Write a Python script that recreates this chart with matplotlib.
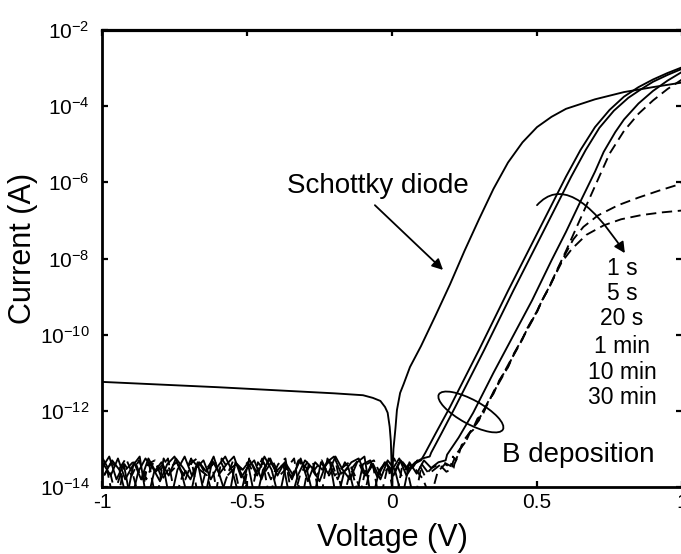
import numpy as np
import matplotlib
matplotlib.use('Agg')
import matplotlib.pyplot as plt
from matplotlib.patches import Ellipse
from matplotlib.transforms import ScaledTranslation
from matplotlib.ticker import FixedLocator, FixedFormatter, NullLocator

plt.rcParams['font.family'] = ['Liberation Sans', 'DejaVu Sans']
plt.rcParams['mathtext.fontset'] = 'custom'
plt.rcParams['mathtext.rm'] = 'Liberation Sans'
plt.rcParams['mathtext.it'] = 'Liberation Sans:italic'
plt.rcParams['axes.unicode_minus'] = False

#%% data (log10 of current in A)

# voltage sweep of the noise floor, -1 V .. 0.2 V (each run starts a bit shifted)
v_floor = np.linspace(-1.0, 0.2, 49)
v_start = {'1s': 0.0, '5s': 0.005, '20s': 0.01, '1m': 0.0025, '10m': 0.0075, '30m': 0.0125}

# Schottky diode
v_sch = [-1.0, -0.8, -0.6, -0.4, -0.2, -0.1, -0.066, -0.04, -0.024, -0.015, -0.008, -0.004, -0.001,
         0.0, 0.002, 0.005, 0.008, 0.012, 0.017, 0.028, 0.04, 0.062, 0.1, 0.15, 0.2, 0.25, 0.3,
         0.35, 0.4, 0.45, 0.5, 0.55, 0.6, 0.7, 0.8, 0.9, 1.0]
l_sch = [-11.24, -11.31, -11.38, -11.46, -11.54, -11.59, -11.66, -11.74, -11.9, -12.05, -12.42, -12.8, -13.5,
         -14.5, -13.6, -13.0, -12.77, -12.45, -11.98, -11.53, -11.3, -10.85, -10.3, -9.5, -8.68, -7.8, -6.97,
         -6.17, -5.48, -4.95, -4.55, -4.28, -4.07, -3.82, -3.63, -3.5, -3.38]

# 1 s
floor_1s = [-13.5, -13.2, -13.8, -13.4, -14.4, -13.6, -13.25, -13.5, -13.85, -13.4,
            -13.2, -13.65, -14.4, -13.5, -13.3, -13.8, -13.45, -13.2, -13.6, -14.3,
            -13.5, -13.3, -13.8, -13.25, -13.6, -13.4, -14.4, -13.7, -13.3, -13.5,
            -13.85, -13.35, -13.2, -13.65, -13.5, -14.3, -13.4, -13.3, -13.75, -13.35,
            -13.55, -13.25, -13.7, -13.4, -13.3]
v_1s = [0.115, 0.15, 0.2, 0.3, 0.4, 0.5, 0.6, 0.65, 0.7, 0.75, 0.8, 0.85, 0.9, 0.95, 1.0]
l_1s = [-13.1, -12.6, -11.9, -10.4, -8.85, -7.35, -5.85, -5.15, -4.55, -4.1, -3.75, -3.5, -3.3, -3.13, -2.98]

# 5 s
floor_5s = [-13.4, -13.7, -13.25, -13.8, -13.45, -13.2, -14.4, -13.6, -13.35, -13.7,
            -13.25, -13.5, -13.8, -13.35, -14.3, -13.3, -13.65, -13.4, -13.2, -13.75,
            -13.45, -14.4, -13.55, -13.25, -13.7, -13.35, -13.8, -13.3, -13.5, -14.3,
            -13.35, -13.65, -13.2, -13.55, -13.8, -13.35, -13.2, -14.4, -13.6, -13.35,
            -13.7, -13.3, -13.55, -13.35, -13.25, -13.2]
v_5s = [0.135, 0.17, 0.218, 0.318, 0.418, 0.518, 0.618, 0.668, 0.715, 0.765, 0.815, 0.86, 0.9, 0.95, 1.0]
l_5s = [-13.1, -12.6, -11.9, -10.4, -8.85, -7.35, -5.85, -5.15, -4.57, -4.12, -3.78, -3.55, -3.36, -3.18, -3.02]

# 20 s
floor_20s = [-13.65, -13.3, -13.55, -14.3, -13.35, -13.8, -13.25, -13.6, -13.4, -14.4,
             -13.55, -13.2, -13.7, -13.35, -13.6, -13.2, -13.8, -14.4, -13.35, -13.55,
             -13.3, -13.7, -13.2, -13.55, -14.3, -13.4, -13.7, -13.25, -13.85, -13.35,
             -13.55, -13.3, -14.4, -13.6, -13.35, -13.25, -13.7, -13.4, -13.8, -13.3,
             -13.55, -14.3, -13.35, -13.65, -13.3, -13.5, -13.35, -13.3]
v_20s = [0.19, 0.23, 0.28, 0.35, 0.42, 0.483, 0.55, 0.6, 0.65, 0.7, 0.73, 0.77, 0.8, 0.85, 0.9, 0.95, 1.0]
l_20s = [-13.15, -12.7, -12.05, -11.0, -10.0, -9.1, -8.05, -7.3, -6.5, -5.72, -5.2, -4.68, -4.35, -3.93, -3.6, -3.33, -3.1]

# 1 min
floor_1m = [-13.25, -13.6, -14.4, -13.4, -13.7, -13.3, -13.8, -13.35, -13.55, -13.25,
            -14.3, -13.7, -13.4, -13.25, -13.6, -13.35, -14.4, -13.8, -13.3, -13.55,
            -13.35, -13.7, -13.25, -14.3, -13.55, -13.4, -13.75, -13.3, -13.6, -13.35,
            -14.4, -13.25, -13.7, -13.5, -13.35, -13.8, -14.3, -13.4, -13.6, -13.35,
            -13.7, -13.3, -13.55, -14.4, -13.4, -13.65, -13.5, -13.35, -13.45]
v_1m = [0.21, 0.22, 0.235, 0.25, 0.265, 0.28, 0.3, 0.314, 0.33, 0.35, 0.37, 0.4, 0.42, 0.45, 0.47,
        0.5, 0.517, 0.535, 0.552, 0.6, 0.65, 0.7, 0.75, 0.8, 0.85, 0.9, 0.95, 1.0]
l_1m = [-13.2, -13.3, -13.0, -12.85, -12.6, -12.5, -12.2, -12.05, -11.78, -11.55, -11.2, -10.85, -10.5, -10.1, -9.8,
        -9.4, -9.1, -8.85, -8.58, -7.8, -6.95, -6.1, -5.25, -4.65, -4.2, -3.85, -3.55, -3.3]

# 10 min
floor_10m = [-13.7, -13.35, -13.55, -13.25, -13.7, -14.4, -13.4, -13.3, -13.8, -13.5,
             -13.35, -13.7, -13.25, -14.3, -13.6, -13.4, -13.3, -13.7, -13.5, -14.4,
             -13.25, -13.6, -13.35, -13.8, -13.4, -13.25, -14.4, -13.7, -13.35, -13.55,
             -13.3, -13.7, -13.4, -14.3, -13.55, -13.3, -13.75, -13.35, -14.4, -13.55,
             -13.25, -13.7, -13.4, -13.55, -13.8, -14.3, -13.6, -13.4, -13.5]
v_10m = [0.21, 0.225, 0.24, 0.25, 0.27, 0.285, 0.3, 0.314, 0.335, 0.35, 0.375, 0.4, 0.425, 0.45, 0.475,
         0.5, 0.517, 0.535, 0.552, 0.575, 0.6, 0.625, 0.66, 0.71, 0.78, 0.85, 0.92, 1.0]
l_10m = [-13.35, -13.1, -12.95, -12.75, -12.55, -12.4, -12.25, -12.0, -11.75, -11.5, -11.15, -10.8, -10.45, -10.1, -9.75,
         -9.4, -9.12, -8.85, -8.6, -8.22, -7.85, -7.5, -7.17, -6.87, -6.6, -6.4, -6.22, -6.03]

# 30 min
floor_30m = [-13.35, -14.3, -13.7, -13.5, -13.3, -13.8, -13.4, -14.4, -13.25, -13.6,
             -13.4, -13.8, -13.3, -13.55, -13.7, -14.4, -13.25, -13.55, -13.4, -13.75,
             -14.3, -13.35, -13.6, -13.3, -13.7, -13.5, -13.25, -14.4, -13.4, -13.7,
             -13.5, -13.25, -13.8, -13.35, -13.6, -14.3, -13.4, -13.3, -13.7, -13.5,
             -14.4, -13.35, -13.6, -13.3, -13.7, -13.5, -13.4, -13.6, -13.5]
v_30m = [0.215, 0.23, 0.24, 0.255, 0.27, 0.28, 0.295, 0.314, 0.33, 0.355, 0.37, 0.4, 0.415, 0.45, 0.465,
         0.5, 0.517, 0.54, 0.552, 0.565, 0.585, 0.62, 0.67, 0.73, 0.79, 0.86, 0.93, 1.0]
l_30m = [-13.4, -13.15, -12.9, -12.8, -12.55, -12.45, -12.2, -12.08, -11.8, -11.45, -11.25, -10.85, -10.6, -10.12, -9.85,
         -9.38, -9.1, -8.8, -8.6, -8.4, -8.1, -7.75, -7.38, -7.13, -6.97, -6.86, -6.79, -6.74]

time_labels = ['1 s', '5 s', '20 s', '1 min', '10 min', '30 min']
y_ticks = [-14, -12, -10, -8, -6, -4, -2]
x_ticks = [-1, -0.5, 0, 0.5, 1]
x_ticklabels = ['-1', '-0.5', '0', '0.5', '1']


def sweep(floor, shift, v_rise, l_rise):
    v = np.concatenate([v_floor[:len(floor)] + shift, v_rise])
    cur = 10.0 ** np.concatenate([floor, l_rise])
    return v, cur


#%% plot
fig = plt.figure(figsize=(6.81, 5.54), dpi=100)
ax = fig.add_axes([102 / 681, 67 / 554, 580 / 681, 457 / 554])

lw = 1.35
ax.plot(v_sch, 10.0 ** np.array(l_sch), color='k', lw=lw)

solid = [(floor_1s, '1s', v_1s, l_1s), (floor_5s, '5s', v_5s, l_5s), (floor_20s, '20s', v_20s, l_20s)]
for fl, key, vr, lr in solid:
    v, cur = sweep(fl, v_start[key], vr, lr)
    ax.plot(v, cur, color='k', lw=lw)

dashed = [(floor_1m, '1m', v_1m, l_1m, 0.0), (floor_10m, '10m', v_10m, l_10m, 2.8),
          (floor_30m, '30m', v_30m, l_30m, 5.6)]
for fl, key, vr, lr, off in dashed:
    v, cur = sweep(fl, v_start[key], vr, lr)
    ax.plot(v, cur, color='k', lw=lw, linestyle=(off, (5.5, 3)))

ax.set_yscale('log')
ax.set_xlim(-1, 1)
ax.set_ylim(1e-14, 1e-2)
ax.yaxis.set_major_locator(FixedLocator([10.0 ** p for p in y_ticks]))
ax.yaxis.set_major_formatter(FixedFormatter([r'$\mathregular{10^{%d}}$' % p for p in y_ticks]))
ax.yaxis.set_minor_locator(NullLocator())
ax.xaxis.set_major_locator(FixedLocator(x_ticks))
ax.xaxis.set_major_formatter(FixedFormatter(x_ticklabels))

for s in ax.spines.values():
    s.set_linewidth(2)
ax.spines['top'].set_linewidth(2.3)
ax.tick_params(direction='in', length=4.5, width=1.6, top=True, right=True, labelsize=15)
ax.tick_params(axis='y', pad=9)
ax.tick_params(axis='x', pad=4)

fig.text(23 / 681, 1 - 248 / 554, 'Current (A)', rotation=90, ha='center', va='center', fontsize=22)
fig.text(392 / 681, 1 - 538 / 554, 'Voltage (V)', ha='center', va='center', fontsize=22)

# annotations
ax.text(-0.05, 10 ** -6.28, 'Schottky diode', ha='center', va='baseline', fontsize=20)
ax.annotate('', xy=(0.176, 10 ** -8.3), xytext=(-0.059, 10 ** -6.6),
            arrowprops=dict(arrowstyle='-|>', color='k', lw=1.3, mutation_scale=16, shrinkA=0, shrinkB=0))

ax.annotate('', xy=(0.803, 10 ** -7.86), xytext=(0.5, 10 ** -6.6),
            arrowprops=dict(arrowstyle='-|>', color='k', lw=1.3, mutation_scale=16, shrinkA=0, shrinkB=0,
                            connectionstyle='angle3,angleA=48,angleB=123'))

label_y = [-8.43, -9.09, -9.75, -10.48, -11.17, -11.82]
for lab, ly in zip(time_labels, label_y):
    ax.text(0.793, 10 ** ly, lab, ha='center', va='baseline', fontsize=16.5)

ax.text(0.379, 10 ** -13.34, 'B deposition', ha='left', va='baseline', fontsize=20)

ell = Ellipse((0, 0), width=0.73, height=0.24, angle=-28.7, fill=False, lw=1.3, color='k',
              transform=fig.dpi_scale_trans + ScaledTranslation(0.272, 10 ** -12.03, ax.transData))
ax.add_patch(ell)

fig.savefig('out.png', dpi=100)
